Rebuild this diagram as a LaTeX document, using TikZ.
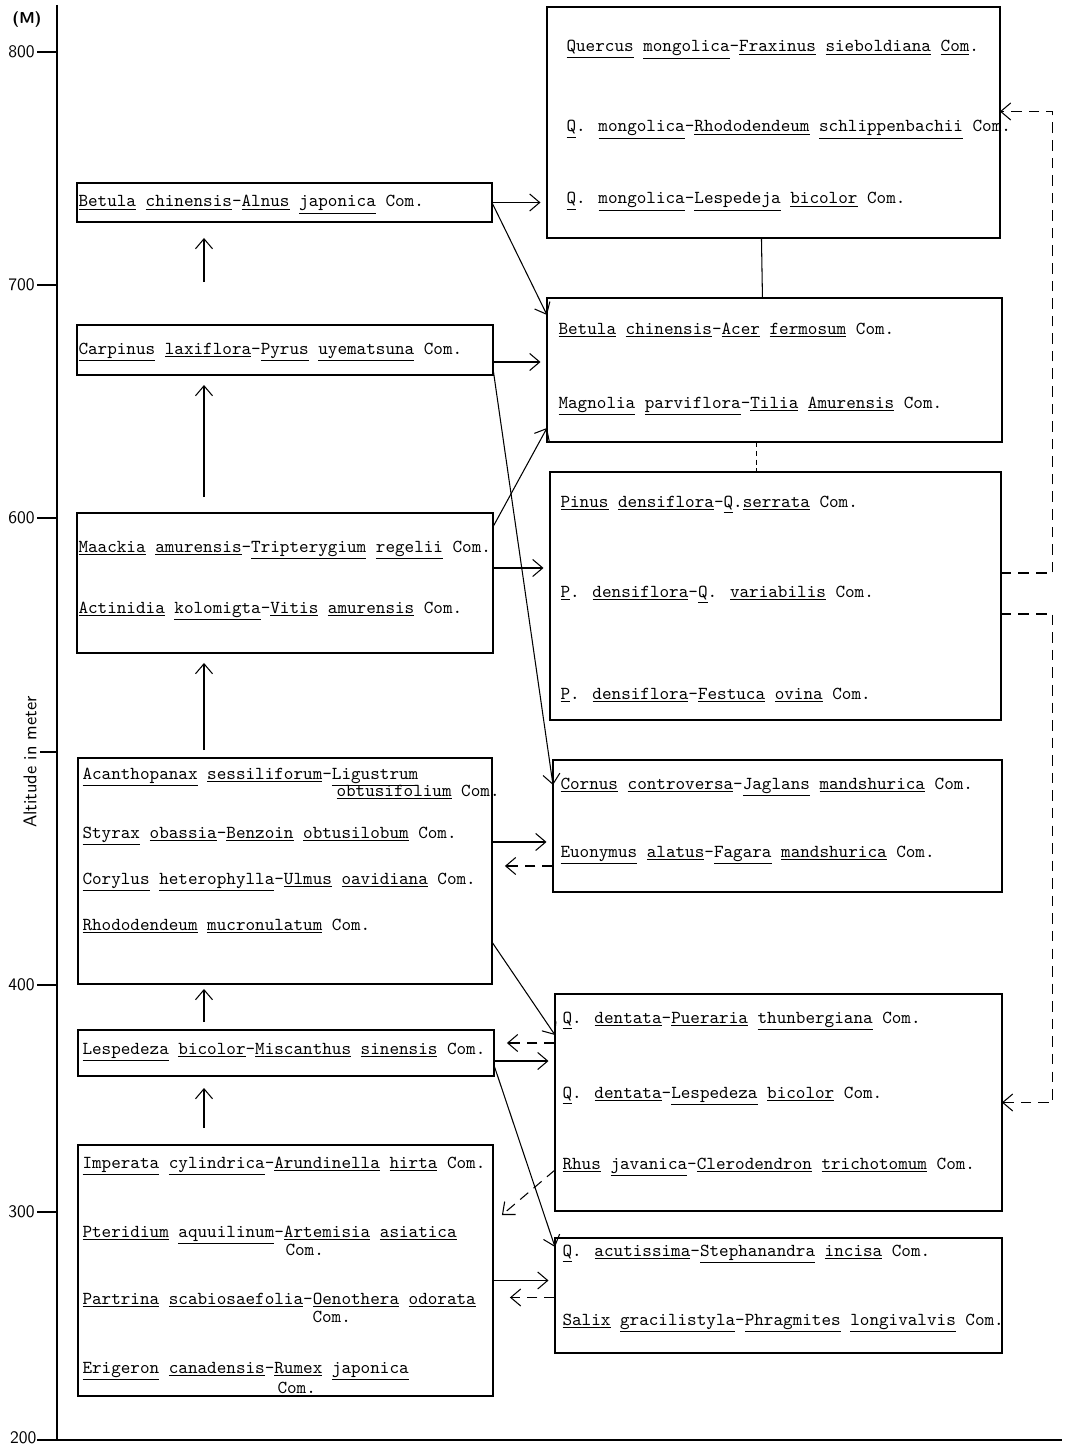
\documentclass[tikz,border=0pt]{standalone}
\usepackage{tikz}
\usetikzlibrary{calc, arrows.meta}
\newcommand{\taxon}[1]{\underline{#1}}

\begin{document}
\begin{tikzpicture}[x=0.02cm, y=-0.02cm, line width=0.6pt,
    >={Straight Barb[length=2mm, width=3.4mm]},
    box/.style={draw, line width=0.7pt, anchor=north west, inner sep=0pt, outer sep=0pt},
    txt/.style={anchor=base west, inner sep=0pt, font=\ttfamily\fontsize{10.4}{12}\selectfont},
    tick/.style={anchor=east, inner sep=1pt, font=\sffamily\fontsize{10}{12}\selectfont},
    succ/.style={->, shorten >=0.13cm},
    back/.style={->, dash pattern=on 6pt off 4pt},
    up/.style={->, shorten <=0.2cm, shorten >=0.2cm}]

\useasboundingbox (0,0) rectangle (1067,1446);

% altitude axis
\draw (57,5) -- (57,1440) -- (1062,1440);
\foreach \y/\m in {52/800, 285/700, 518/600, 985/400, 1212/300} {
    \draw (37,\y) -- (57,\y);
    \node[tick] (alt\m) at (37,\y) {\m};
}
\draw (37,1440) -- (57,1440);
\node[tick, anchor=south east, inner sep=0pt] (alt200) at (37,1444) {200};
\draw (40,752) -- (57,752);
\node[font=\sffamily\bfseries\fontsize{9}{11}\selectfont] (unit) at (27,20) {(M)};
\node[rotate=90, font=\sffamily\fontsize{10.5}{12}\selectfont] (axlabel) at (30,762) {Altitude in meter};

% left column
\node[box, minimum width=8.30cm, minimum height=0.78cm] (L1) at (77,183) {};
\node[box, minimum width=8.32cm, minimum height=1.00cm] (L2) at (77,325) {};
\node[box, minimum width=8.32cm, minimum height=2.80cm] (L3) at (77,513) {};
\node[box, minimum width=8.28cm, minimum height=4.52cm] (L4) at (78,758) {};
\node[box, minimum width=8.32cm, minimum height=0.92cm] (L5) at (78,1030) {};
\node[box, minimum width=8.30cm, minimum height=5.02cm] (L6) at (78,1145) {};

% right column
\node[box, minimum width=9.06cm, minimum height=4.62cm] (R1) at (547,7) {};
\node[box, minimum width=9.10cm, minimum height=2.88cm] (R2) at (547,298) {};
\node[box, minimum width=9.02cm, minimum height=4.96cm] (R3) at (550,472) {};
\node[box, minimum width=8.98cm, minimum height=2.64cm] (R4) at (553,760) {};
\node[box, minimum width=8.94cm, minimum height=4.34cm] (R5) at (555,994) {};
\node[box, minimum width=8.94cm, minimum height=2.30cm] (R6) at (555,1238) {};

% communities
\node[txt] (r1a) at (566,52) {\taxon{Quercus} \taxon{mongolica}-\taxon{Fraxinus} \taxon{sieboldiana} \taxon{Com}.};
\node[txt] (r1b) at (566,132) {\taxon{Q}. \taxon{mongolica}-\taxon{Rhododendeum} \taxon{schlippenbachii} Com.};
\node[txt] (r1c) at (566,204) {\taxon{Q}. \taxon{mongolica}-\taxon{Lespedeja} \taxon{bicolor} Com.};
\node[txt] (r2a) at (558,334) {\taxon{Betula} \taxon{chinensis}-\taxon{Acer} \taxon{fermosum} Com.};
\node[txt] (r2b) at (558,408) {\taxon{Magnolia} \taxon{parviflora}-\taxon{Tilia} \taxon{Amurensis} Com.};
\node[txt] (r3a) at (560,507) {\taxon{Pinus} \taxon{densiflora}-\taxon{Q}.\taxon{serrata} Com.};
\node[txt] (r3b) at (560,597) {\taxon{P}. \taxon{densiflora}-\taxon{Q}. \taxon{variabilis} Com.};
\node[txt] (r3c) at (560,699) {\taxon{P}. \taxon{densiflora}-\taxon{Festuca} \taxon{ovina} Com.};
\node[txt] (r4a) at (560,789) {\taxon{Cornus} \taxon{controversa}-\taxon{Jaglans} \taxon{mandshurica} Com.};
\node[txt] (r4b) at (560,857) {\taxon{Euonymus} \taxon{alatus}-\taxon{Fagara} \taxon{mandshurica} Com.};
\node[txt] (r5a) at (562,1023) {\taxon{Q}. \taxon{dentata}-\taxon{Pueraria} \taxon{thunbergiana} Com.};
\node[txt] (r5b) at (562,1098) {\taxon{Q}. \taxon{dentata}-\taxon{Lespedeza} \taxon{bicolor} Com.};
\node[txt] (r5c) at (562,1169) {\taxon{Rhus} \taxon{javanica}-\taxon{Clerodendron} \taxon{trichotomum} Com.};
\node[txt] (r6a) at (562,1256) {\taxon{Q}. \taxon{acutissima}-\taxon{Stephanandra} \taxon{incisa} Com.};
\node[txt] (r6b) at (562,1325) {\taxon{Salix} \taxon{gracilistyla}-\taxon{Phragmites} \taxon{longivalvis} Com.};

\node[txt] (l1a) at (78,207) {\taxon{Betula} \taxon{chinensis}-\taxon{Alnus} \taxon{japonica} Com.};
\node[txt] (l2a) at (78,354) {\taxon{Carpinus} \taxon{laxiflora}-\taxon{Pyrus} \taxon{uyematsuna} Com.};
\node[txt] (l3a) at (78,552) {\taxon{Maackia} \taxon{amurensis}-\taxon{Tripterygium} \taxon{regelii} Com.};
\node[txt] (l3b) at (78,613) {\taxon{Actinidia} \taxon{kolomigta}-\taxon{Vitis} \taxon{amurensis} Com.};
\node[txt] (l4a) at (82,779) {\taxon{Acanthopanax} \taxon{sessiliforum}-\taxon{Ligustrum}};
\node[txt] (l4b) at (336,796) {\taxon{obtusifolium} Com.};
\node[txt] (l4c) at (82,838) {\taxon{Styrax} \taxon{obassia}-\taxon{Benzoin} \taxon{obtusilobum} Com.};
\node[txt] (l4d) at (82,884) {\taxon{Corylus} \taxon{heterophylla}-\taxon{Ulmus} \taxon{oavidiana} Com.};
\node[txt] (l4e) at (82,930) {\taxon{Rhododendeum} \taxon{mucronulatum} Com.};
\node[txt] (l5a) at (82,1054) {\taxon{Lespedeza} \taxon{bicolor}-\taxon{Miscanthus} \taxon{sinensis} Com.};
\node[txt] (l6a) at (82,1168) {\taxon{Imperata} \taxon{cylindrica}-\taxon{Arundinella} \taxon{hirta} Com.};
\node[txt] (l6b) at (82,1237) {\taxon{Pteridium} \taxon{aquuilinum}-\taxon{Artemisia} \taxon{asiatica}};
\node[txt] (l6c) at (285,1255) {Com.};
\node[txt] (l6d) at (82,1304) {\taxon{Partrina} \taxon{scabiosaefolia}-\taxon{Oenothera} \taxon{odorata}};
\node[txt] (l6e) at (312,1322) {Com.};
\node[txt] (l6f) at (82,1373) {\taxon{Erigeron} \taxon{canadensis}-\taxon{Rumex} \taxon{japonica}};
\node[txt] (l6g) at (277,1393) {Com.};

% succession upwards
\coordinate (spine) at (204,0);
\draw[up, shorten <=0.86cm, shorten >=0.32cm] (L2.north -| spine) -- (L1.south -| spine);
\draw[up, shorten <=0.32cm] (L3.north -| spine) -- (L2.south -| spine);
\draw[up, shorten <=0.16cm] (L4.north -| spine) -- (L3.south -| spine);
\draw[up, shorten <=0.16cm, shorten >=0.1cm] (L5.north -| spine) -- (L4.south -| spine);
\draw[up, shorten <=0.34cm, shorten >=0.24cm] (L6.north -| spine) -- (L5.south -| spine);
\draw ($(R1.south)+(-12,0)$) -- ($(R2.north)+(-12,0)$);
\draw[dash pattern=on 3pt off 2pt] ($(R2.south)+(-18,0)$) -- ($(R2.south)+(-18,30)$);

% left to right
\draw[succ] (L1.east) -- (R1.west |- L1.east);
\draw[->] (L1.east) -- ($(R2.north west)+(0,17)$);
\draw[succ] ($(L2.east)+(0,12)$) -- ($(R2.west |- L2.east)+(0,12)$);
\draw[->] ($(L2.south east)+(0,-7)$) -- ($(R4.north west)+(0,25)$);
\draw[->] ($(L3.north east)+(0,14)$) -- ($(R2.south west)+(0,-14)$);
\draw[succ] ($(L3.east)+(0,-15)$) -- ($(R3.west |- L3.east)+(0,-15)$);
\draw[succ] ($(L4.east)+(0,-29)$) -- ($(R4.west |- L4.east)+(0,-29)$);
\draw[->] ($(L4.south east)+(0,-42)$) -- ($(R5.north west)+(0,41)$);
\draw[succ] ($(L5.east)+(0,8)$) -- ($(R5.west |- L5.east)+(0,8)$);
\draw[->] ($(L5.east)+(0,12)$) -- ($(R6.north west)+(0,9)$);
\draw[succ] ($(L6.east)+(0,10)$) -- ($(R6.west |- L6.east)+(0,10)$);

% right to left (dashed)
\draw[back, shorten >=0.26cm] ($(R4.west |- L4.east)+(0,-5)$) -- ($(L4.east)+(0,-5)$);
\draw[back, shorten >=0.26cm] ($(R5.west |- L5.east)+(0,-10)$) -- ($(L5.east)+(0,-10)$);
\draw[back] ($(R5.south west)+(0,-41)$) -- ($(L6.north east)+(9,70)$);
\draw[back, shorten >=0.34cm] ($(R6.west |- L6.east)+(0,27)$) -- ($(L6.east)+(0,27)$);
\draw[back] ($(R3.east)+(0,-23)$) -- ++(52,0) |- ($(R1.east)+(0,-11)$);
\draw[back] ($(R3.east)+(0,18)$) -- ++(52,0) |- (R5.east);

\end{tikzpicture}
\end{document}
